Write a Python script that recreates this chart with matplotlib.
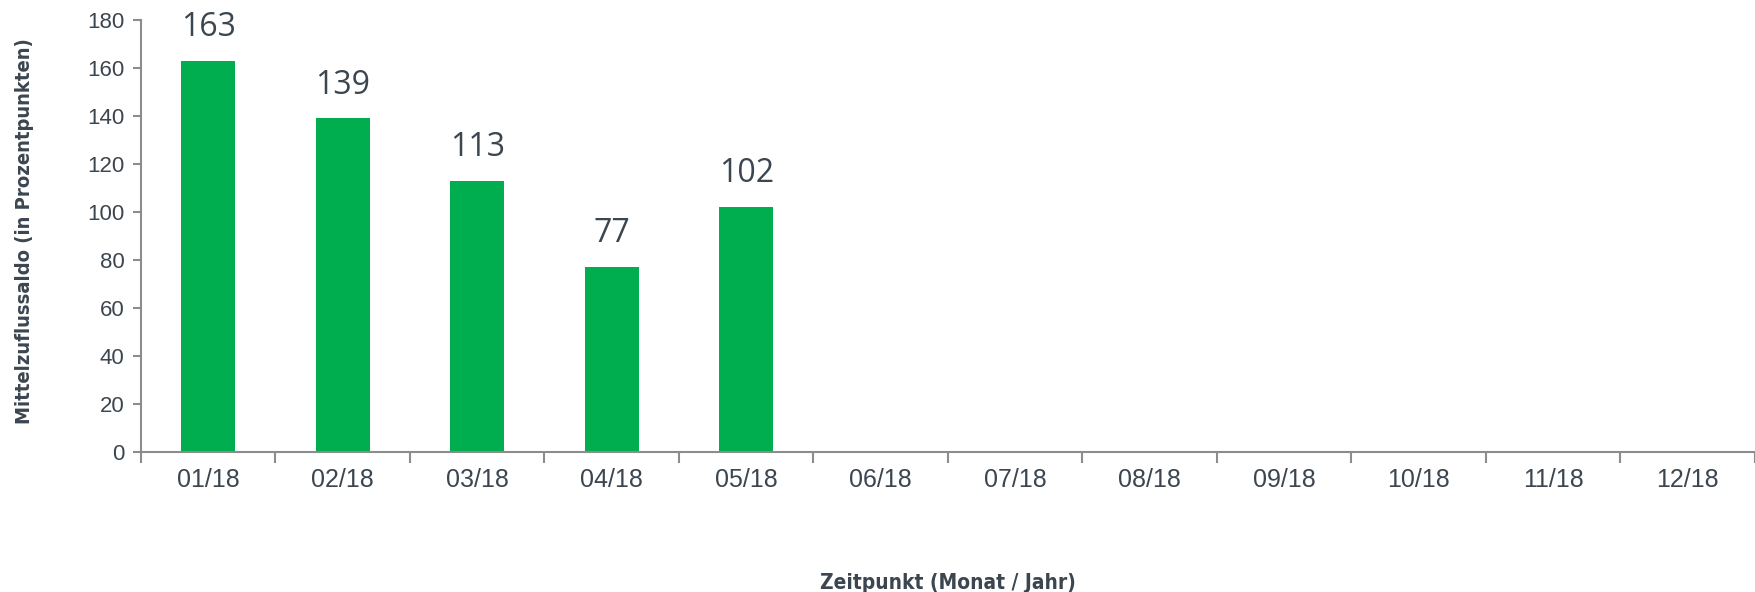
import numpy as np
import matplotlib.pyplot as plt

months = ["01/18", "02/18", "03/18", "04/18", "05/18", "06/18",
          "07/18", "08/18", "09/18", "10/18", "11/18", "12/18"]
values = [163, 139, 113, 77, 102]

bar_color = "#00ae4f"
text_color = "#3b4650"
axis_color = "#8c8c8c"

fig = plt.figure(figsize=(17.55, 5.92), dpi=100)
ax = fig.add_axes([0.0803, 0.237, 0.9197, 0.729])

x = np.arange(len(values))
bars = ax.bar(x, values, width=0.4, color=bar_color, zorder=2)
for xi, v in zip(x, values):
    ax.text(xi, v + 7, str(v), ha="center", va="bottom", fontsize=23,
            color=text_color, family=["Open Sans", "DejaVu Sans"])

ax.set_xlim(-0.5, len(months) - 0.5)
ax.set_ylim(0, 180)
ax.set_yticks(np.arange(0, 181, 20))
ax.set_xticks(np.arange(len(months)))
ax.set_xticklabels(months)
ax.set_xticks(np.arange(len(months) + 1) - 0.5, minor=True)

ax.tick_params(axis="x", which="major", length=0, pad=12, labelsize=18,
               labelcolor=text_color)
ax.tick_params(axis="x", which="minor", length=8, width=1.5, color=axis_color)
ax.tick_params(axis="y", length=6, width=1.5, color=axis_color, pad=6,
               labelsize=16, labelcolor=text_color)
for lbl in ax.get_xticklabels() + ax.get_yticklabels():
    lbl.set_family(["Liberation Sans", "DejaVu Sans"])

for side in ["top", "right"]:
    ax.spines[side].set_visible(False)
for side in ["left", "bottom"]:
    ax.spines[side].set_color(axis_color)
    ax.spines[side].set_linewidth(1.5)

# narrow bold font for axis titles
ax.set_ylabel("Mittelzuflussaldo (in Prozentpunkten)", fontsize=14.5,
              fontweight="bold", color=text_color, family="DejaVu Sans",
              fontstretch="condensed")
ax.yaxis.set_label_coords(-0.066, 0.51)
ax.set_xlabel("Zeitpunkt (Monat / Jahr)", fontsize=15, fontweight="bold",
              color=text_color, family="DejaVu Sans", fontstretch="condensed")
ax.xaxis.set_label_coords(0.5, -0.28)

fig.savefig("out.png", dpi=100)
